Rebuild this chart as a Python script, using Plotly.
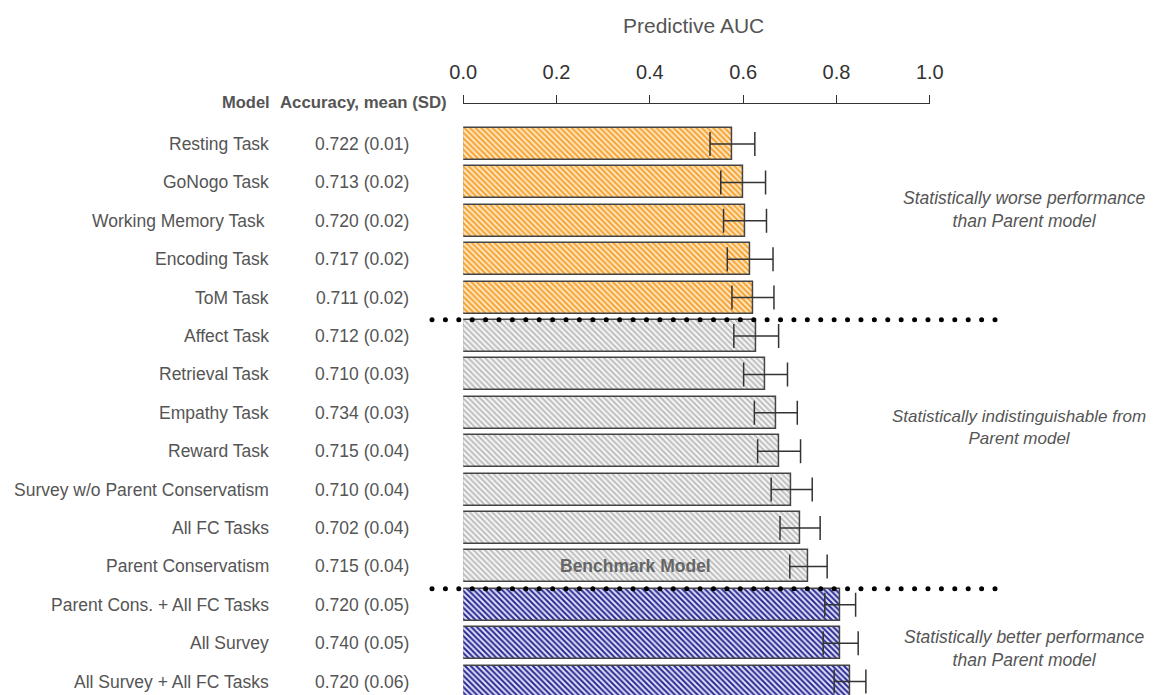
import plotly.graph_objects as go
import numpy as np

models = ["Resting Task", "GoNogo Task", "Working Memory Task ", "Encoding Task", "ToM Task",
          "Affect Task", "Retrieval Task", "Empathy Task", "Reward Task",
          "Survey w/o Parent Conservatism", "All FC Tasks", "Parent Conservatism",
          "Parent Cons. + All FC Tasks", "All Survey", "All Survey + All FC Tasks"]
accuracy = ["0.722 (0.01)", "0.713 (0.02)", "0.720 (0.02)", "0.717 (0.02)", "0.711 (0.02)",
            "0.712 (0.02)", "0.710 (0.03)", "0.734 (0.03)", "0.715 (0.04)", "0.710 (0.04)",
            "0.702 (0.04)", "0.715 (0.04)", "0.720 (0.05)", "0.740 (0.05)", "0.720 (0.06)"]
auc = [0.577, 0.600, 0.604, 0.615, 0.621, 0.628, 0.648, 0.670, 0.677, 0.704, 0.722, 0.740,
       0.808, 0.809, 0.829]
auc_err = [0.048, 0.048, 0.046, 0.049, 0.045, 0.048, 0.047, 0.046, 0.046, 0.044, 0.043, 0.040,
           0.033, 0.0375, 0.034]
group = ["worse"] * 5 + ["same"] * 7 + ["better"] * 3
group_order = ["worse", "same", "better"]
group_text = {
    "worse": "<i>Statistically worse performance</i><br><i>than Parent model</i>",
    "same": "<i>Statistically indistinguishable from</i><br><i>Parent model</i>",
    "better": "<i>Statistically better performance</i><br><i>than Parent model</i>",
}
tick_vals = [0.0, 0.2, 0.4, 0.6, 0.8, 1.0]
tick_text = ["0.0", "0.2", "0.4", "0.6", "0.8", "1.0"]

# The html page body has an 8px margin; place the figure so the picture lands on the window
OFF = 8
W, H = 1158 - OFF, 695 - OFF


def xp(p):
    return (p - OFF) / W


def yp(p):
    return 1 - (p - OFF) / H


fg = {"worse": "#F6A22E", "same": "#B9B9B9", "better": "#2A2A94"}
bg = {"worse": "#FFE8C6", "same": "#F5F5F5", "better": "#E2E2F8"}
sol = {"worse": 0.5, "same": 0.45, "better": 0.5}
idx = list(range(len(models)))

fig = go.Figure()
for g in group_order:
    sel = [i for i in idx if group[i] == g]
    fig.add_trace(go.Bar(
        orientation="h", x=[auc[i] for i in sel], y=sel, width=0.833,
        marker=dict(
            color=bg[g],
            pattern=dict(shape="\\", fgcolor=fg[g], bgcolor=bg[g], size=4,
                         solidity=sol[g], fillmode="replace"),
            line=dict(color="#444444", width=1.5)),
        error_x=dict(type="data", array=[auc_err[i] for i in sel], color="#333333",
                     thickness=1.5, width=12),
        showlegend=False, hoverinfo="skip"))

# row index -> picture pixel: 144 + 38.4 * i ; build y range from it
row0, step = 144 - OFF, 38.4
y_top = -row0 / step
y_bot = (H - row0) / step

shapes = []
bounds = [i + 0.58 for i in range(len(group) - 1) if group[i] != group[i + 1]]
dot_px = np.linspace(432, 995, 43)
for b in bounds:
    for px in dot_px:
        shapes.append(dict(type="circle", xref="paper", yref="y", xsizemode="pixel",
                           ysizemode="pixel", xanchor=xp(px), yanchor=b,
                           x0=-2.5, x1=2.5, y0=-2.5, y1=2.5,
                           fillcolor="black", line=dict(width=0), layer="above"))

font = "Liberation Sans, Arial, Helvetica, sans-serif"
grey = "#555555"
ann = []
for i, (m, a) in enumerate(zip(models, accuracy)):
    ann.append(dict(x=xp(271), xref="paper", y=i, yref="y", text=m, xanchor="right",
                    yanchor="middle", showarrow=False,
                    font=dict(size=17.5, color=grey, family=font)))
    ann.append(dict(x=xp(362), xref="paper", y=i, yref="y", text=a, xanchor="center",
                    yanchor="middle", showarrow=False,
                    font=dict(size=17.5, color=grey, family=font)))
ann.append(dict(x=xp(272), xref="paper", y=yp(102), yref="paper", text="<b>Model</b>",
                xanchor="right", yanchor="middle", showarrow=False,
                font=dict(size=16.5, color=grey, family=font)))
ann.append(dict(x=xp(278), xref="paper", y=yp(102), yref="paper",
                text="<b>Accuracy, mean (SD)</b>", xanchor="left", yanchor="middle",
                showarrow=False, font=dict(size=16.8, color=grey, family=font)))
ann.append(dict(x=xp(693), xref="paper", y=yp(25), yref="paper",
                text="Predictive AUC", showarrow=False, xanchor="center", yanchor="middle",
                font=dict(size=21, color=grey, family=font)))
bench = models.index("Parent Conservatism")
ann.append(dict(x=auc[bench] / 2, xref="x", y=bench, yref="y", text="<b>Benchmark Model</b>",
                showarrow=False, xanchor="center", yanchor="middle",
                font=dict(size=17.5, color="#666666", family=font)))
for g, yc, xc, fs in zip(group_order, [209, 427, 648], [1024, 1019, 1024], [17.5, 17, 17.5]):
    ann.append(dict(x=xp(xc), xref="paper", y=yp(yc), yref="paper", text=group_text[g],
                    showarrow=False, align="center", xanchor="center", yanchor="middle",
                    font=dict(size=fs, color=grey, family=font)))

fig.update_layout(
    width=W, height=H, margin=dict(l=0, r=0, t=0, b=0, autoexpand=False),
    paper_bgcolor="white", plot_bgcolor="white", barmode="overlay",
    xaxis=dict(domain=[xp(463.2), xp(929.8)], range=[0, 1], side="top", anchor="free",
               position=yp(103), tickvals=tick_vals, ticktext=tick_text,
               ticks="outside", ticklen=8, tickwidth=1.3, tickcolor="#333333",
               showline=True, linecolor="#333333", linewidth=1.3,
               showgrid=False, zeroline=False, automargin=False, ticklabelstandoff=8,
               tickfont=dict(size=20, color="#333333", family=font)),
    yaxis=dict(domain=[0, 1], range=[y_bot, y_top], visible=False, showgrid=False,
               zeroline=False, automargin=False),
    annotations=ann, shapes=shapes, bargap=0,
)
fig.write_html("out.html")
